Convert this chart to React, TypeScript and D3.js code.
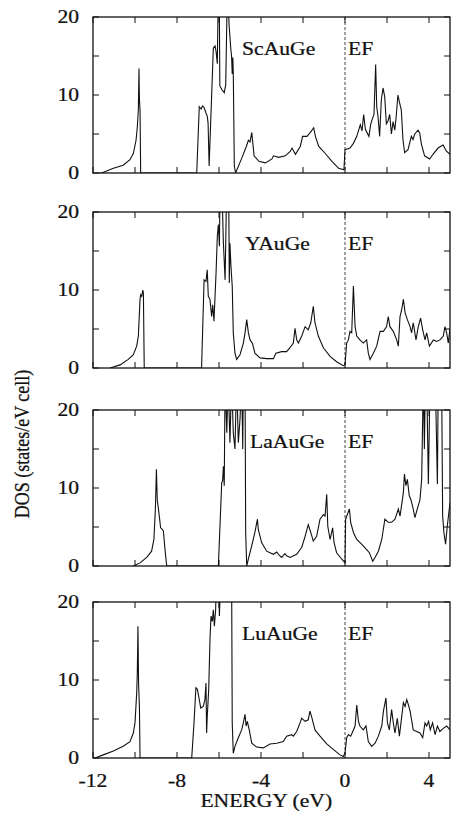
import React from "react";
import * as d3 from "d3";

// ---- data: [energy (eV), DOS (states/eV cell)] ----
const xTicks = [-12, -10, -8, -6, -4, -2, 0, 2, 4];
const xTickLabels = [-12, -8, -4, 0, 4];
const yTicks = [0, 5, 10, 15, 20];
const yTickLabels = [0, 10, 20];
const compounds = ["ScAuGe", "YAuGe", "LaAuGe", "LuAuGe"];
const labelEnergy = [-4.9, -4.76, -4.52, -4.9];

const scAuGe: [number, number][] = [
  [-11.67, 0], [-11.59, 0], [-11.03, 0.6], [-10.56, 1.0], [-10.24, 1.7], [-10.08, 2.5], [-9.95, 4.2], [-9.89, 5.9],
  [-9.84, 8.1], [-9.81, 13.4], [-9.79, 9.5], [-9.76, 8.0], [-9.73, 0], [-7.06, 0], [-6.94, 8.5], [-6.85, 8.2],
  [-6.78, 8.6], [-6.71, 8.4], [-6.62, 7.7], [-6.56, 7.3], [-6.52, 6.4], [-6.47, 0.9], [-6.27, 16.0], [-6.19, 16.3],
  [-6.14, 15.6], [-6.08, 14.0], [-6.03, 24], [-5.99, 24], [-5.96, 11.2], [-5.87, 10.7], [-5.75, 10.3], [-5.68, 11.3],
  [-5.6, 24], [-5.55, 21], [-5.52, 19], [-5.48, 17.5], [-5.44, 16], [-5.4, 14.9], [-5.37, 12.7], [-5.34, 14.8],
  [-5.32, 12.8], [-5.27, 0.9], [-5.21, 0], [-4.9, 2.0], [-4.7, 3.4], [-4.6, 4.2], [-4.52, 4.0], [-4.44, 5.2],
  [-4.33, 2.2], [-4.1, 1.5], [-3.79, 1.3], [-3.48, 1.8], [-3.4, 2.2], [-3.16, 2.0], [-2.84, 2.2], [-2.6, 2.8],
  [-2.52, 3.2], [-2.36, 2.4], [-2.13, 3.4], [-2.02, 4.7], [-1.81, 4.7], [-1.65, 5.2], [-1.49, 5.8], [-1.41, 4.7],
  [-1.25, 3.4], [-0.94, 2.5], [-0.62, 1.5], [-0.3, 0.6], [-0.05, 0.4], [0, 3.0], [0.24, 3.2], [0.4, 3.8],
  [0.56, 4.7], [0.64, 5.4], [0.73, 6.2], [0.81, 5.4], [0.89, 7.5], [0.97, 5.6], [1.14, 4.7], [1.22, 6.2],
  [1.3, 6.9], [1.38, 7.5], [1.46, 13.9], [1.51, 8.5], [1.57, 7.3], [1.65, 4.7], [1.73, 9.4], [1.81, 10.9],
  [1.89, 9.8], [1.97, 6.3], [2.05, 6.7], [2.13, 7.5], [2.21, 5.0], [2.29, 6.6], [2.37, 5.5], [2.44, 7.3],
  [2.52, 10.0], [2.6, 9.0], [2.68, 8.1], [2.76, 4.3], [2.84, 2.6], [3.0, 3.0], [3.16, 4.7], [3.24, 4.3],
  [3.32, 5.0], [3.48, 5.5], [3.56, 5.1], [3.63, 3.8], [3.79, 2.2], [4.03, 1.8], [4.19, 2.4], [4.43, 3.2],
  [4.67, 3.6], [4.83, 2.8], [5.0, 2.4],
];

const yAuGe: [number, number][] = [
  [-11.19, 0], [-10.71, 0.4], [-10.32, 1.1], [-10.08, 1.7], [-9.92, 2.8], [-9.84, 4.1], [-9.76, 8.8], [-9.73, 9.4],
  [-9.68, 9.2], [-9.63, 10.0], [-9.6, 9.6], [-9.56, 0], [-6.83, 0], [-6.71, 11.3], [-6.62, 11.1], [-6.56, 12.6],
  [-6.51, 9.2], [-6.43, 8.8], [-6.35, 6.6], [-6.3, 8.1], [-6.24, 6.0], [-6.14, 12.2], [-6.08, 16.9], [-6.03, 18.4],
  [-5.98, 15.6], [-5.95, 24], [-5.87, 24], [-5.79, 16.0], [-5.71, 11.3], [-5.63, 24], [-5.54, 24], [-5.51, 10.9],
  [-5.48, 16], [-5.43, 13], [-5.37, 10.5], [-5.32, 4.5], [-5.24, 1.9], [-5.16, 1.1], [-5.0, 1.7], [-4.84, 3.2],
  [-4.76, 4.5], [-4.68, 6.2], [-4.6, 4.5], [-4.52, 3.6], [-4.4, 3.1], [-4.29, 1.9], [-4.05, 1.3], [-3.73, 1.2],
  [-3.41, 1.2], [-3.29, 1.9], [-3.02, 2.1], [-2.78, 2.1], [-2.62, 2.6], [-2.46, 3.2], [-2.38, 5.1], [-2.3, 3.6],
  [-2.22, 3.2], [-2.06, 4.1], [-1.9, 5.3], [-1.75, 4.9], [-1.63, 5.8], [-1.51, 7.9], [-1.43, 5.8], [-1.27, 4.1],
  [-1.03, 2.6], [-0.71, 1.5], [-0.4, 0.8], [-0.08, 0.3], [0, 0.4], [0.08, 3.2], [0.16, 3.6], [0.24, 4.7],
  [0.32, 4.5], [0.4, 10.5], [0.48, 5.3], [0.56, 4.1], [0.71, 3.6], [0.87, 3.2], [1.03, 3.6], [1.11, 1.9],
  [1.19, 1.1], [1.35, 1.9], [1.51, 2.8], [1.67, 4.7], [1.83, 4.7], [1.98, 5.3], [2.06, 6.6], [2.14, 5.3],
  [2.3, 4.7], [2.46, 3.6], [2.54, 2.8], [2.62, 6.6], [2.7, 7.5], [2.78, 8.8], [2.86, 7.1], [2.97, 6.2],
  [3.1, 5.3], [3.17, 4.5], [3.25, 5.8], [3.38, 3.6], [3.49, 5.3], [3.6, 6.4], [3.7, 4.9], [3.81, 3.6],
  [3.89, 4.5], [4.02, 2.8], [4.21, 3.6], [4.37, 3.4], [4.52, 3.6], [4.68, 4.1], [4.76, 5.3], [4.84, 4.5],
  [4.92, 3.2], [5.0, 5.1],
];

const laAuGe: [number, number][] = [
  [-10.08, 0], [-9.76, 0.4], [-9.44, 1.1], [-9.21, 1.9], [-9.1, 3.4], [-9.03, 7.3], [-8.98, 12.4], [-8.94, 8.5],
  [-8.86, 6.8], [-8.78, 4.9], [-8.7, 4.7], [-8.65, 4.5], [-8.57, 2.1], [-8.49, 0], [-6.03, 0], [-5.87, 10.7],
  [-5.83, 10.9], [-5.79, 12.8], [-5.75, 10.3], [-5.71, 24], [-5.63, 17.1], [-5.56, 24], [-5.48, 15.8], [-5.4, 24],
  [-5.32, 17.1], [-5.24, 15], [-5.16, 24], [-5.08, 15.8], [-5.0, 18.8], [-4.92, 24], [-4.87, 15], [-4.84, 24],
  [-4.76, 24], [-4.73, 4.3], [-4.68, 0], [-4.6, 0.9], [-4.44, 2.6], [-4.29, 4.3], [-4.17, 6.0], [-4.13, 4.7],
  [-3.97, 3.0], [-3.73, 1.9], [-3.41, 1.5], [-3.25, 1.8], [-3.17, 1.5], [-3.02, 1.1], [-2.86, 1.6], [-2.78, 1.3],
  [-2.62, 1.1], [-2.3, 1.5], [-2.06, 2.4], [-1.9, 3.8], [-1.75, 5.3], [-1.63, 4.3], [-1.51, 3.2], [-1.35, 3.8],
  [-1.19, 6.0], [-1.03, 6.6], [-0.95, 6.4], [-0.87, 9.2], [-0.82, 5.1], [-0.71, 3.4], [-0.59, 4.9], [-0.52, 3.0],
  [-0.4, 1.7], [-0.16, 0.9], [0, 0.4], [0.03, 6.0], [0.11, 6.6], [0.21, 7.3], [0.27, 5.6], [0.4, 4.3],
  [0.56, 3.4], [0.79, 2.8], [1.03, 2.1], [1.16, 1.7], [1.22, 1.3], [1.32, 0.6], [1.43, 1.1], [1.59, 1.9],
  [1.75, 3.4], [1.9, 6.0], [2.06, 5.6], [2.22, 5.6], [2.38, 6.0], [2.54, 7.3], [2.62, 6.4], [2.78, 9.4],
  [2.83, 11.8], [2.9, 10.3], [2.97, 11.1], [3.06, 9.0], [3.14, 8.5], [3.25, 7.3], [3.33, 6.2], [3.44, 7.3],
  [3.57, 8.5], [3.65, 11.1], [3.73, 24], [3.78, 15], [3.83, 24], [3.89, 24], [3.97, 10.5], [4.05, 24],
  [4.21, 24], [4.3, 24], [4.4, 10.5], [4.44, 24], [4.52, 24], [4.6, 24], [4.65, 6.4], [4.71, 4.3],
  [4.79, 2.8], [4.87, 5.1], [5.0, 8.1],
];

const luAuGe: [number, number][] = [
  [-11.9, 0], [-11.51, 0.4], [-11.03, 0.9], [-10.56, 1.5], [-10.24, 2.1], [-10.08, 3.2], [-10.0, 4.5], [-9.92, 8.3],
  [-9.89, 10.9], [-9.86, 16.9], [-9.83, 9.6], [-9.79, 6.6], [-9.76, 0], [-7.3, 0], [-7.19, 4.5], [-7.1, 9.0],
  [-7.03, 8.8], [-6.94, 7.5], [-6.87, 6.4], [-6.75, 6.6], [-6.67, 7.5], [-6.62, 9.6], [-6.59, 3.2], [-6.56, 5.3],
  [-6.49, 8.8], [-6.43, 15.2], [-6.38, 18.2], [-6.32, 17.5], [-6.27, 19], [-6.22, 16.9], [-6.16, 19], [-6.11, 24],
  [-6.03, 24], [-5.98, 18.2], [-5.92, 24], [-5.4, 24], [-5.37, 4.5], [-5.32, 0.6], [-5.24, 1.5], [-5.08, 2.6],
  [-4.92, 3.6], [-4.84, 4.5], [-4.76, 5.6], [-4.71, 4.1], [-4.65, 4.7], [-4.56, 3.6], [-4.44, 1.9], [-4.21, 1.4],
  [-3.89, 1.3], [-3.57, 1.8], [-3.25, 1.9], [-2.94, 2.1], [-2.78, 2.8], [-2.54, 3.0], [-2.46, 2.8], [-2.3, 3.4],
  [-2.14, 4.5], [-2.06, 5.1], [-1.9, 4.7], [-1.75, 4.9], [-1.67, 6.0], [-1.59, 5.3], [-1.43, 3.6], [-1.19, 2.8],
  [-0.87, 1.8], [-0.56, 1.1], [-0.24, 0.4], [-0.08, 0.2], [0, 0.6], [0.08, 2.6], [0.16, 3.0], [0.27, 2.8],
  [0.37, 3.4], [0.48, 4.1], [0.56, 6.8], [0.64, 4.7], [0.71, 4.1], [0.87, 3.6], [1.0, 4.1], [1.11, 2.1],
  [1.27, 1.5], [1.43, 1.9], [1.59, 2.8], [1.75, 4.1], [1.83, 6.0], [1.95, 7.7], [2.02, 4.5], [2.11, 3.6],
  [2.22, 6.2], [2.3, 4.5], [2.38, 3.2], [2.49, 5.1], [2.59, 2.8], [2.7, 5.3], [2.78, 7.1], [2.86, 6.6],
  [2.94, 7.5], [3.02, 6.8], [3.1, 6.0], [3.25, 3.6], [3.41, 3.4], [3.57, 3.2], [3.7, 2.6], [3.81, 4.5],
  [3.89, 4.1], [3.98, 4.7], [4.06, 3.6], [4.17, 4.5], [4.29, 3.0], [4.4, 4.1], [4.52, 3.4], [4.68, 3.8],
  [4.84, 4.1], [5.0, 3.6],
];

const series = [scAuGe, yAuGe, laAuGe, luAuGe];

// ---- layout ----
const W = 451;
const H = 813;
const left = 93;
const right = 450;
const panelTops = [17, 212, 410, 602];
const panelH = 156;
const SX = 1.2; // horizontal stretch of the scanned lettering
const FS = 18;
const font = "'Liberation Serif', 'Times New Roman', serif";

function Txt({ x, y, anchor = "start", size = FS, children }: any) {
  return (
    <g transform={`translate(${x},${y}) scale(${SX},1)`}>
      <text
        x={0}
        y={0}
        textAnchor={anchor}
        fontSize={size}
        fontFamily={font}
        fill="#111"
        stroke="#111"
        strokeWidth={0.25}
      >
        {children}
      </text>
    </g>
  );
}

export default function App() {
  React.useEffect(() => {
    document.body.style.margin = "0";
  }, []);
  const x = d3.scaleLinear().domain([-12, 5]).range([left, right]);
  return (
    <svg width={W} height={H} style={{ display: "block", background: "#fff" }}>
      <defs>
        {panelTops.map((t, i) => (
          <clipPath id={`clip${i}`} key={i}>
            <rect x={left} y={t} width={right - left} height={panelH} />
          </clipPath>
        ))}
      </defs>
      {series.map((data, i) => {
        const top = panelTops[i];
        const y = d3.scaleLinear().domain([0, 20]).range([top + panelH, top]);
        const line = d3
          .line<[number, number]>()
          .x((d) => x(d[0]))
          .y((d) => y(d[1]));
        return (
          <g key={i}>
            <path d={line(data) || ""} fill="none" stroke="#111" strokeWidth={1.1} clipPath={`url(#clip${i})`} />
            <line x1={x(0)} x2={x(0)} y1={top} y2={top + panelH} stroke="#111" strokeWidth={0.8} strokeDasharray="3,2" />
            <rect x={left} y={top} width={right - left} height={panelH} fill="none" stroke="#111" strokeWidth={1.3} />
            {xTicks.map((t) => (
              <g key={`xt${t}`}>
                <line x1={x(t)} x2={x(t)} y1={top} y2={top + 6} stroke="#111" strokeWidth={1} />
                <line x1={x(t)} x2={x(t)} y1={top + panelH} y2={top + panelH - 6} stroke="#111" strokeWidth={1} />
              </g>
            ))}
            {yTicks.map((t) => (
              <g key={`yt${t}`}>
                <line x1={left} x2={left + 6} y1={y(t)} y2={y(t)} stroke="#111" strokeWidth={1} />
                <line x1={right} x2={right - 6} y1={y(t)} y2={y(t)} stroke="#111" strokeWidth={1} />
              </g>
            ))}
            {yTickLabels.map((t) => (
              <Txt key={`yl${t}`} x={left - 14} y={y(t) + 6} anchor="end">
                {t}
              </Txt>
            ))}
            <Txt x={x(labelEnergy[i])} y={top + 38}>
              {compounds[i]}
            </Txt>
            <Txt x={x(0) + 3} y={top + 38}>
              EF
            </Txt>
          </g>
        );
      })}
      {xTickLabels.map((t) => (
        <Txt key={`xl${t}`} x={x(t)} y={787} anchor="middle">
          {t}
        </Txt>
      ))}
      <Txt x={x(-3.75)} y={807} anchor="middle">
        ENERGY (eV)
      </Txt>
      <g transform={`translate(29,444) rotate(-90)`}>
        <text
          x={0}
          y={0}
          textAnchor="middle"
          fontSize={FS}
          fontFamily={font}
          fill="#111"
          stroke="#111"
          strokeWidth={0.25}
          transform={`scale(1,${SX})`}
        >
          DOS (states/eV cell)
        </text>
      </g>
    </svg>
  );
}
